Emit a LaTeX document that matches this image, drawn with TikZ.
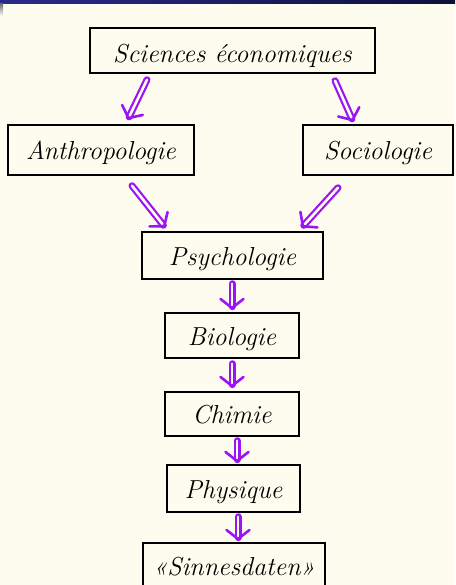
\documentclass[tikz,border=0pt]{standalone}
\usepackage{fontspec}
\usetikzlibrary{arrows.meta,calc}
\definecolor{cream}{RGB}{254,252,238}
\definecolor{arrowpurple}{RGB}{155,20,245}
\definecolor{navyA}{RGB}{42,42,140}
\definecolor{navyB}{RGB}{16,16,60}
\tikzset{
  box/.style={draw=black, line width=1.5pt, fill=cream, inner sep=0pt,
    text height=25pt, text depth=6pt,
    font=\fontsize{26}{30}\selectfont\itshape\addfontfeature{FakeBold=2},
    append after command={
      [draw=black!80, line width=0.9pt, dash pattern=on 1.4pt off 1.2pt]
      ([xshift=1.8pt,yshift=-1.8pt]\tikzlastnode.north west) rectangle
      ([xshift=-1.8pt,yshift=1.8pt]\tikzlastnode.south east)}},
  arr/.style={draw=arrowpurple, double=cream, double distance=2.6pt, line width=2.2pt,
    line cap=round,
    -{Straight Barb[round, length=9pt, width=23pt, line width=2.6pt]}},
}
\begin{document}
\begin{tikzpicture}[x=1pt,y=-1pt]
\useasboundingbox (0,0) rectangle (455,585);
\fill[cream] (0,0) rectangle (455,585);
\fill[left color=navyA, right color=navyB] (0,0) rectangle (455,4);
\fill[top color=black!55, bottom color=white] (0,4) rectangle (3,16);

\node[box, minimum width=285pt, minimum height=45pt, text height=30pt] (sci) at (232.5,50.5) {Sciences \'economiques};
\node[box, minimum width=186pt, minimum height=50pt] (anth) at (101,150) {Anthropologie};
\node[box, minimum width=150pt, minimum height=50pt] (soc) at (378,150) {Sociologie};
\node[box, minimum width=181pt, minimum height=47pt] (psy) at (232.5,255.5) {Psychologie};
\node[box, minimum width=134pt, minimum height=45pt] (bio) at (232,335.5) {Biologie};
\node[box, minimum width=134pt, minimum height=44pt] (chi) at (232,414) {Chimie};
\node[box, minimum width=133pt, minimum height=47pt] (phy) at (233.5,488.5) {Physique};
\node[box, minimum width=182pt, minimum height=46pt] (sin) at (234,566) {\guillemotleft Sinnesdaten\guillemotright};

\draw[arr] ($(sci.south)+(-85.5,6)$) -- ($(anth.north)+(27,-5)$);
\draw[arr] ($(sci.south)+(102.5,7)$) -- ($(soc.north)+(-25,-3)$);
\draw[arr] ($(anth.south)+(31,10)$) -- ($(psy.north)+(-67.5,-4)$);
\draw[arr] ($(soc.south)+(-40,12)$) -- ($(psy.north)+(69.5,-4)$);
\draw[arr] ($(psy.south)+(-0.5,4)$) -- ($(bio.north)+(0,-3)$);
\draw[arr] ($(bio.south)+(0,5)$) -- ($(chi.north)+(0,-4)$);
\draw[arr] ($(chi.south)+(5,4)$) -- ($(phy.north)+(3.5,-2)$);
\draw[arr] ($(phy.south)+(4.5,4)$) -- ($(sin.north)+(4,-2)$);
\end{tikzpicture}
\end{document}
